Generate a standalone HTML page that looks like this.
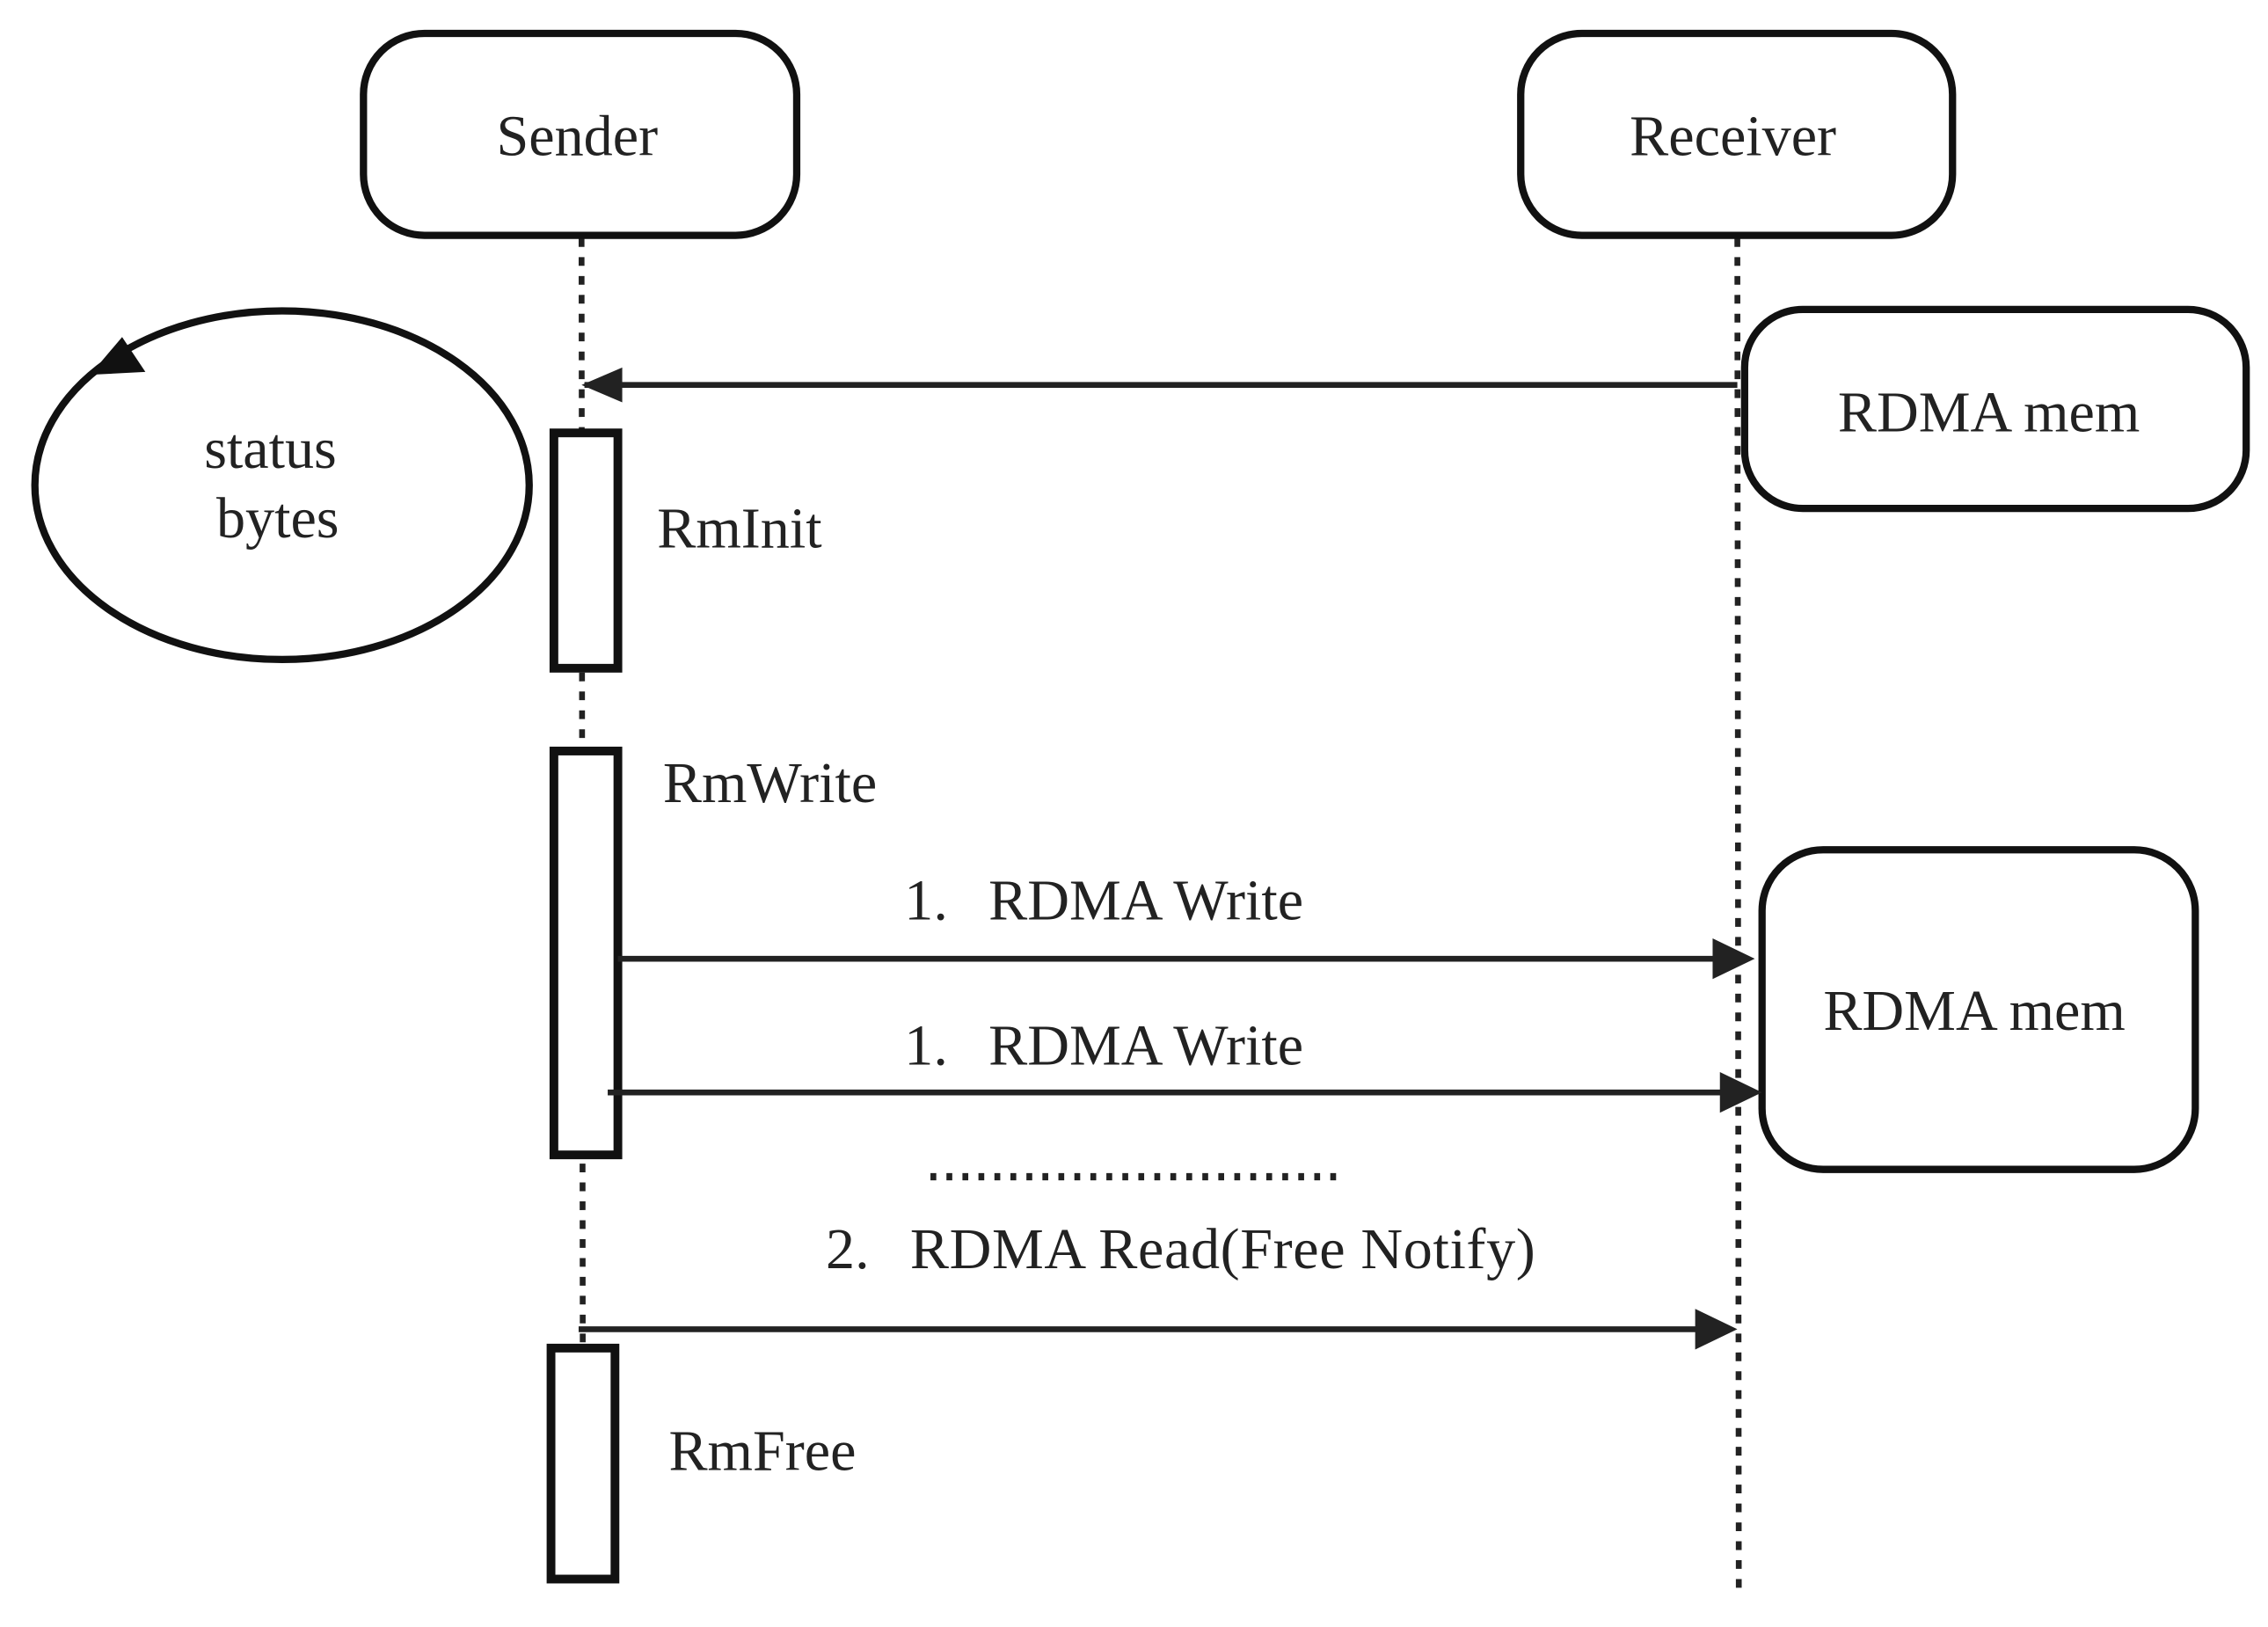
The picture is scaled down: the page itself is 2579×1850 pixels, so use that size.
<!DOCTYPE html>
<html><head><meta charset="utf-8"><style>html,body{margin:0;padding:0;background:#fff}svg{display:block}</style></head>
<body>
<svg width="2579" height="1850" viewBox="0 0 1560 1120" preserveAspectRatio="none" xmlns="http://www.w3.org/2000/svg">
<g font-family="Liberation Serif, serif" font-size="40" fill="#222">
<line x1="400" y1="164" x2="401" y2="1085" stroke="#222" stroke-width="4" stroke-dasharray="6,7"/>
<line x1="1195" y1="164" x2="1196" y2="1100" stroke="#222" stroke-width="4" stroke-dasharray="6,7"/>
<rect x="250" y="23" width="298" height="139" rx="42" fill="#fff" stroke="#111" stroke-width="5"/>
<rect x="1046" y="23" width="297" height="139" rx="42" fill="#fff" stroke="#111" stroke-width="5"/>
<text x="397" y="107" text-anchor="middle">Sender</text>
<text x="1192" y="107" text-anchor="middle">Receiver</text>
<rect x="1200" y="213" width="345" height="137" rx="40" fill="#fff" stroke="#111" stroke-width="5"/>
<text x="1368" y="297" text-anchor="middle">RDMA mem</text>
<rect x="1212" y="585" width="298" height="220" rx="42" fill="#fff" stroke="#111" stroke-width="5"/>
<text x="1358" y="709" text-anchor="middle">RDMA mem</text>
<ellipse cx="194" cy="334" rx="170" ry="120" fill="none" stroke="#111" stroke-width="5"/>
<path d="M62 258 L100 256 L84 232 z" fill="#111"/>
<text x="186" y="322" text-anchor="middle">status</text>
<text x="191" y="370" text-anchor="middle">bytes</text>
<line x1="1195" y1="265" x2="402" y2="265" stroke="#222" stroke-width="4"/>
<path d="M400,265 L428,253 L428,277 z" fill="#222"/>
<rect x="381" y="298" width="44" height="162" fill="#fff" stroke="#111" stroke-width="6"/>
<rect x="381" y="517" width="44" height="278" fill="#fff" stroke="#111" stroke-width="6"/>
<rect x="379" y="928" width="44" height="159" fill="#fff" stroke="#111" stroke-width="6"/>
<text x="452" y="377">RmInit</text>
<text x="456" y="552">RmWrite</text>
<text x="460" y="1012">RmFree</text>
<text x="622" y="633">1.</text><text x="680" y="633">RDMA Write</text>
<line x1="425" y1="660" x2="1180" y2="660" stroke="#222" stroke-width="4"/>
<path d="M1207,660 L1178,646 L1178,674 z" fill="#222"/>
<text x="622" y="733">1.</text><text x="680" y="733">RDMA Write</text>
<line x1="418" y1="752" x2="1185" y2="752" stroke="#222" stroke-width="4"/>
<path d="M1212,752 L1183,738 L1183,766 z" fill="#222"/>
<line x1="640" y1="810" x2="922" y2="810" stroke="#222" stroke-width="5" stroke-dasharray="4,7"/>
<text x="568" y="873">2.</text><text x="626" y="873" textLength="430">RDMA Read(Free Notify)</text>
<line x1="398" y1="915" x2="1168" y2="915" stroke="#222" stroke-width="4"/>
<path d="M1195,915 L1166,901 L1166,929 z" fill="#222"/>
</g>
</svg>
</body></html>
